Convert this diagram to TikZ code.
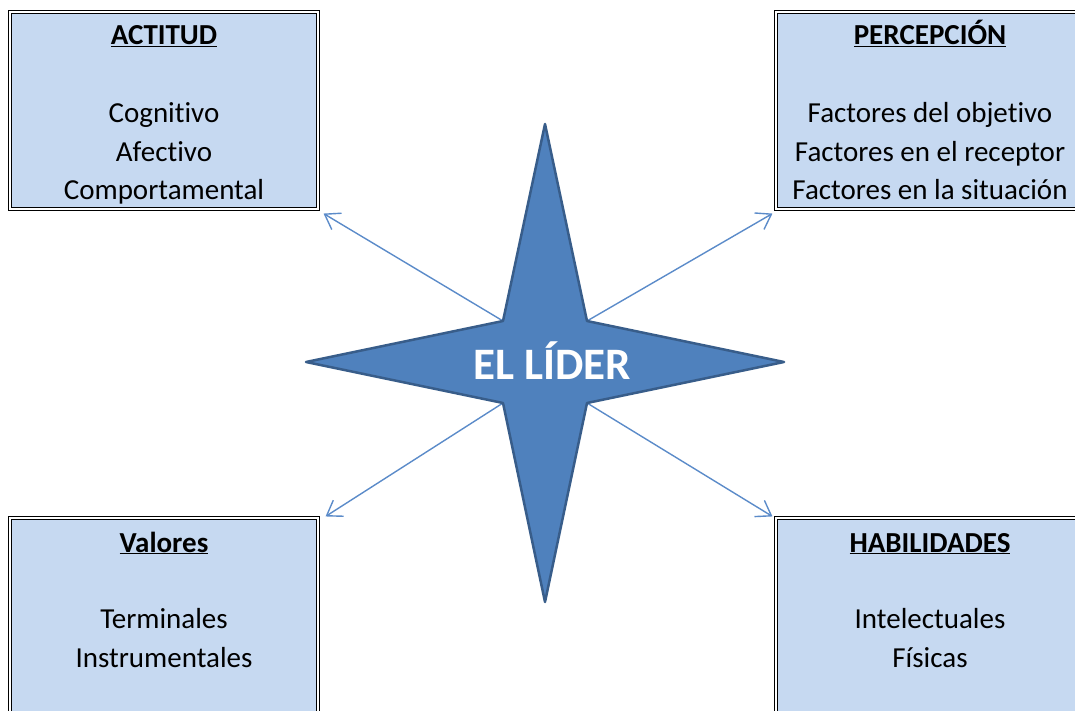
\documentclass[tikz,border=0pt]{standalone}
\usepackage{fontspec}
\setmainfont{Carlito}[Ligatures=NoCommon]
\usetikzlibrary{arrows.meta,calc}
\definecolor{boxfill}{HTML}{C6D9F1}
\definecolor{starfill}{HTML}{4F81BD}
\definecolor{staredge}{HTML}{385D8A}
\definecolor{arrowblue}{HTML}{5B8BC9}
\newcommand{\heading}[1]{\textbf{\underline{#1}}}
\begin{document}
\begin{tikzpicture}[x=1pt,y=-1pt,
  panel/.style={draw=black, line width=1.1pt, double=white, double distance=1.2pt,
    fill=boxfill, minimum width=308pt, minimum height=197pt, inner sep=0pt},
  paneltext/.style={align=center, font=\fontsize{29}{38.5}\selectfont,
    inner sep=0pt, anchor=base},
  link/.style={draw=arrowblue, line width=1.4pt,
    -{Straight Barb[length=14pt,width=19pt]}},
  startext/.style={text=white, font=\fontsize{45}{50}\selectfont\bfseries, inner sep=0pt}]
  \useasboundingbox (0,0) rectangle (1075,711);
  \clip (0,0) rectangle (1075,711);

  % four panels
  \node[panel] (actitud)     at (164,110.5) {};
  \node[panel] (percepcion)  at (930,110.5) {};
  \node[panel] (valores)     at (164,616.5) {};
  \node[panel] (habilidades) at (930,616.5) {};

  % panel texts (anchored at the baseline of their last line)
  \node[paneltext] (tactitud) at (164,200)
    {\heading{ACTITUD}\\[39.5pt]Cognitivo\\Afectivo\\Comportamental};
  \node[paneltext] (tpercepcion) at (930,200)
    {\heading{PERCEPCIÓN}\\[39.5pt]Factores del objetivo\\Factores en el receptor\\Factores en la situación};
  \node[paneltext] (tvalores) at (164,667)
    {\heading{Valores}\\[38pt]Terminales\\Instrumentales};
  \node[paneltext] (thabilidades) at (930,667)
    {\heading{HABILIDADES}\\[38pt]Intelectuales\\Físicas};

  % inner corners of the star
  \coordinate (ul) at (503,321);
  \coordinate (ur) at (587,321);
  \coordinate (dl) at (503,403);
  \coordinate (dr) at (587,403);

  % connectors from the star to the panels
  \draw[link] (ul) -- ($(actitud.south east)+(5,4)$);
  \draw[link] (ur) -- ($(percepcion.south west)+(-3,4)$);
  \draw[link] (dl) -- ($(valores.north east)+(7,-1)$);
  \draw[link] (dr) -- ($(habilidades.north west)+(-3,-1)$);

  % four-pointed star
  \draw[fill=starfill, draw=staredge, line width=2.5pt, line join=round]
    (545,124) -- (ur) -- (784,362) -- (dr) -- (545,602) -- (dl) -- (306,362) -- (ul) -- cycle;
  \node[startext] (lider) at (552,361) {EL LÍDER};
\end{tikzpicture}
\end{document}
